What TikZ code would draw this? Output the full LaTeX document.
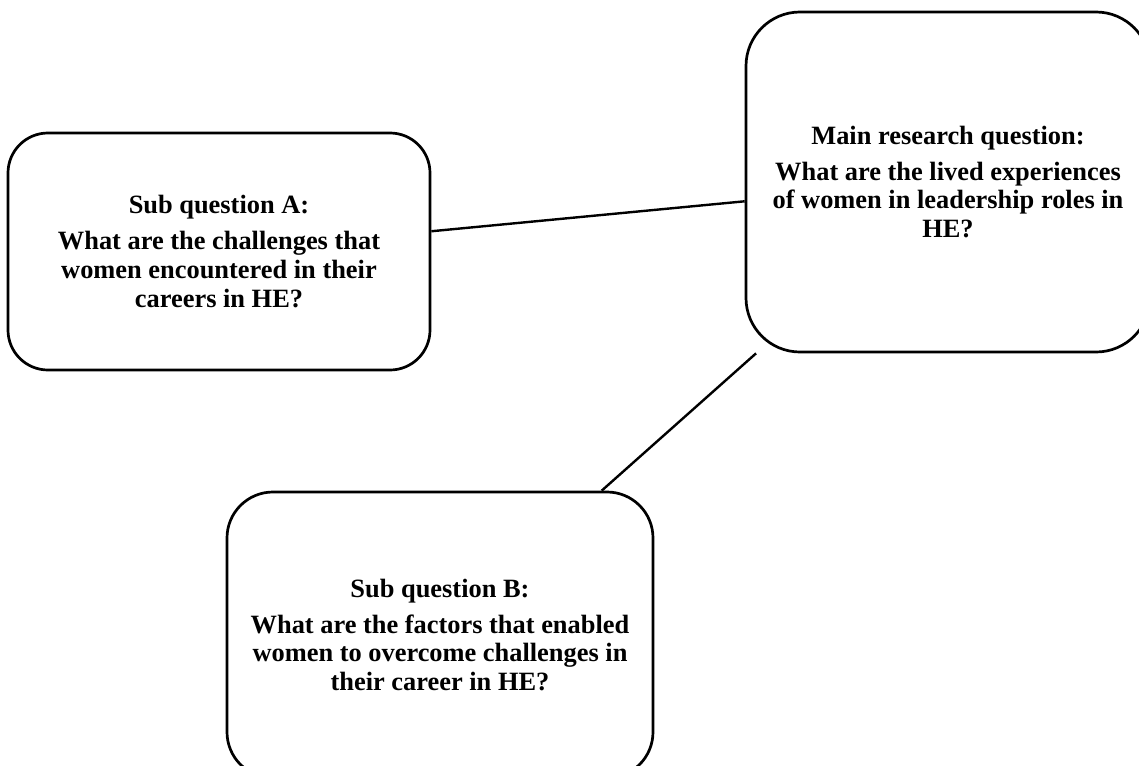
\documentclass[tikz,border=0pt]{standalone}
\usepackage{fontspec}
\setmainfont{Liberation Serif}
\begin{document}
\begin{tikzpicture}[x=0.5pt, y=-0.5pt,
  qbox/.style={draw, line width=1.35pt, align=center, inner sep=0pt,
    font=\bfseries\fontsize{13.2}{14.3}\selectfont}]
\useasboundingbox (0,0) rectangle (1139,765);
\node[qbox, rounded corners=20pt, minimum width=211pt, minimum height=118.5pt] (subA) at (219,251.5) {Sub question A:\\[3.7pt]What are the challenges that\\women encountered in their\\careers in HE?};
\node[qbox, rounded corners=27pt, minimum width=202pt, minimum height=170pt] (main) at (948,182) {Main research question:\\[3.7pt]What are the lived experiences\\of women in leadership roles in\\HE?};
\node[qbox, rounded corners=23pt, minimum width=213pt, minimum height=143pt] (subB) at (440,635) {Sub question B:\\[3.7pt]What are the factors that enabled\\women to overcome challenges in\\their career in HE?};

\draw[line width=1.2pt] (subA) -- (main);
\draw[line width=1.2pt] (main) -- (subB);
\end{tikzpicture}
\end{document}
